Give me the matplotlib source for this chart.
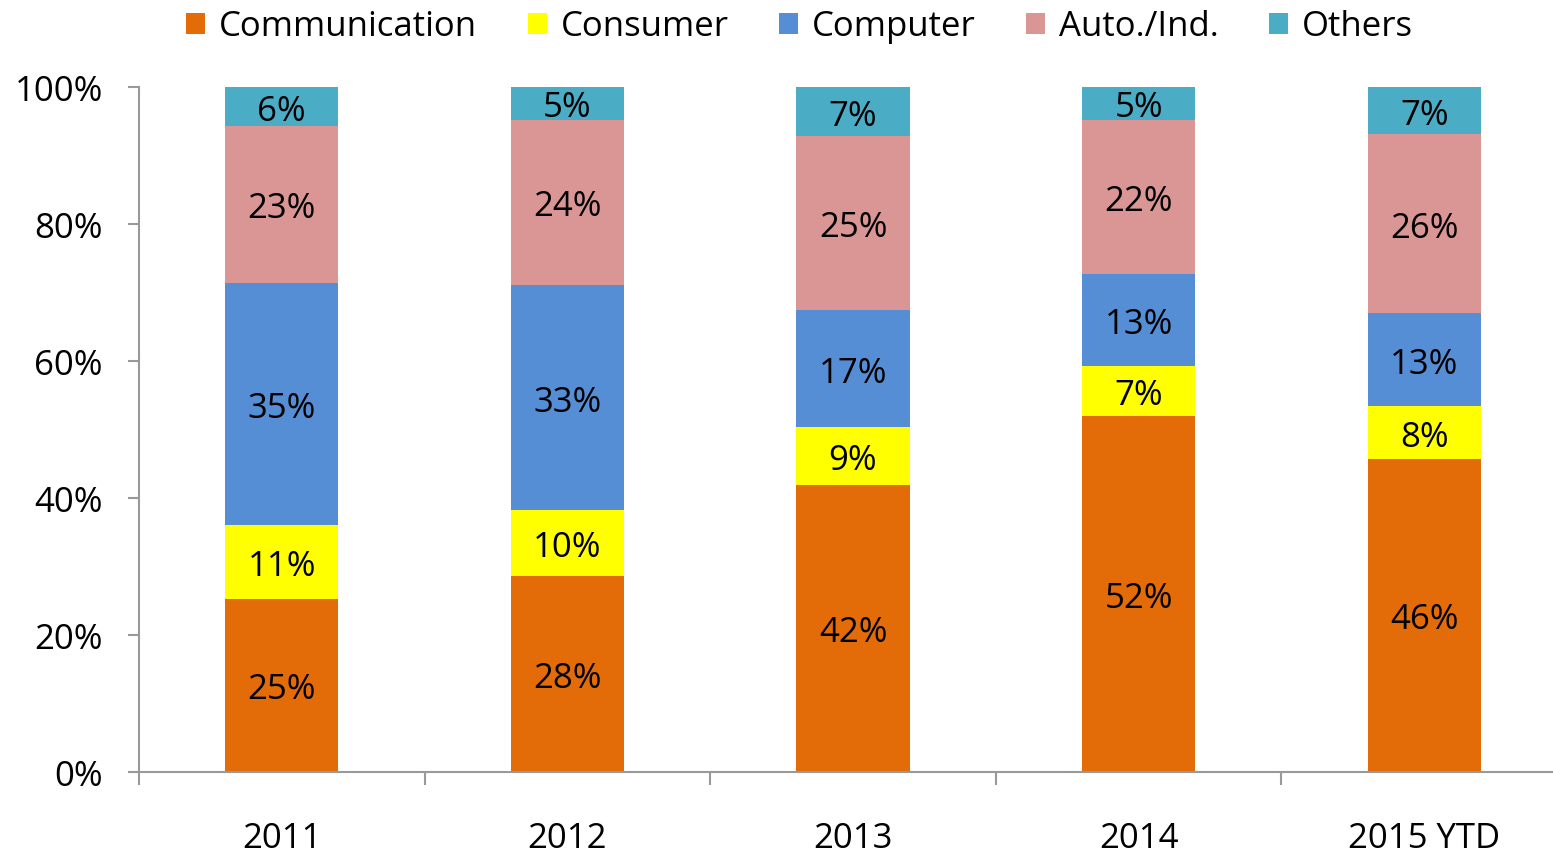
import numpy as np
import matplotlib.pyplot as plt
from matplotlib.patches import Patch

plt.rcParams['font.family'] = ['Open Sans', 'DejaVu Sans']

years = ['2011', '2012', '2013', '2014', '2015 YTD']
series = ['Communication', 'Consumer', 'Computer', 'Auto./Ind.', 'Others']

# segment shares (%)
communication = [25.3, 28.6, 41.9, 52.0, 45.7]
consumer = [10.8, 9.6, 8.5, 7.3, 7.7]
computer = [35.3, 32.9, 17.0, 13.4, 13.6]
auto_ind = [22.9, 24.1, 25.4, 22.5, 26.1]
others = [5.7, 4.8, 7.2, 4.8, 6.9]

# printed labels
lab_comm = [25, 28, 42, 52, 46]
lab_cons = [11, 10, 9, 7, 8]
lab_comp = [35, 33, 17, 13, 13]
lab_auto = [23, 24, 25, 22, 26]
lab_oth = [6, 5, 7, 5, 7]

colors = ['#E36C09', '#FFFF00', '#558ED5', '#D99694', '#4BACC6']

vals = [communication, consumer, computer, auto_ind, others]
labs = [lab_comm, lab_cons, lab_comp, lab_auto, lab_oth]

fig = plt.figure(figsize=(15.53, 8.54), dpi=100)
ax = fig.add_axes([139/1553, 81/854, 1 - 139/1553, 685/854])

x = np.arange(len(years))
bottom = np.zeros(len(years))
fs = 25
for v, lb, c in zip(vals, labs, colors):
    v = np.array(v)
    ax.bar(x, v, 0.396, bottom=bottom, color=c, edgecolor='none')
    for xi, b, h, t in zip(x, bottom, v, lb):
        ax.text(xi, b + h/2, str(t) + '%', ha='center', va='center_baseline',
                fontsize=fs, color='black')
    bottom = bottom + v

ax.set_ylim(0, 100)
ax.set_xlim(-0.5, 4.5 - 14/285.5)
ax.set_yticks(np.arange(0, 101, 20))
ax.set_yticklabels([str(t) + '%' for t in range(0, 101, 20)], fontsize=fs)
ax.set_xticks(x)
ax.set_xticklabels(years, fontsize=fs)
ax.set_xticks(np.arange(-0.5, 4.5, 1), minor=True)
ax.tick_params(axis='x', which='major', length=0, pad=35)
ax.tick_params(axis='x', which='minor', length=9, color='#999999', width=1.5)
ax.tick_params(axis='y', length=8, color='#999999', width=1.5, pad=18)

for s in ['top', 'right']:
    ax.spines[s].set_visible(False)
for s in ['left', 'bottom']:
    ax.spines[s].set_color('#999999')
    ax.spines[s].set_linewidth(1.5)

handles = [Patch(facecolor=c, edgecolor='none') for c in colors]
fig.legend(handles, series, loc='center', bbox_to_anchor=(0.515, 0.968),
           ncol=5, frameon=False, fontsize=fs, handlelength=0.55,
           handleheight=0.55, handletextpad=0.4, columnspacing=1.45)

fig.savefig('out.png', dpi=100)
